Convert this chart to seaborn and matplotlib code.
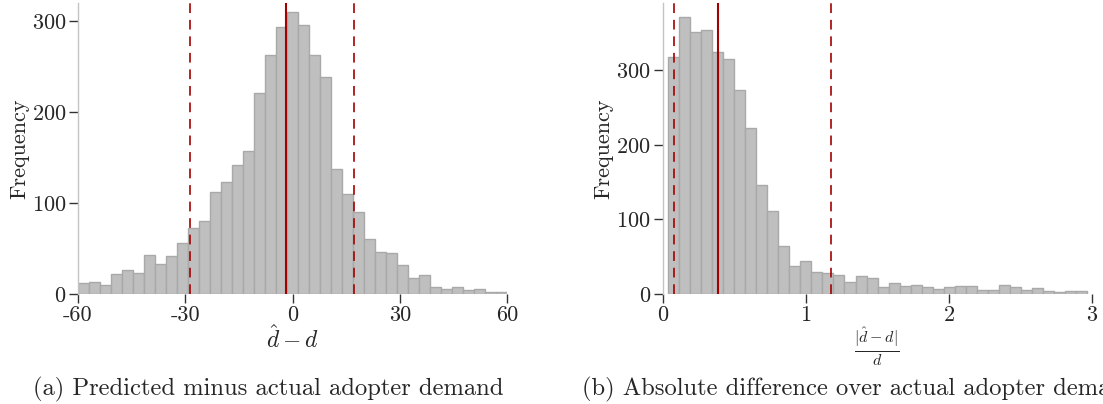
import numpy as np
import pandas as pd
import seaborn as sns
import matplotlib.pyplot as plt

# bin counts
diff_counts = [12, 13, 10, 22, 26, 23, 43, 33, 42, 56, 73, 80, 112, 123, 142, 157,
               221, 263, 294, 310, 296, 263, 239, 138, 110, 90, 61, 46, 45, 32, 18,
               21, 8, 6, 8, 4, 6, 2, 2]
diff_range = (-60, 60)
diff_lines = [-28.8, -1.9, 17.1]   # lower, median, upper

rel_counts = [318, 372, 351, 354, 325, 315, 274, 223, 146, 111, 64, 38, 44, 29, 28,
              25, 16, 24, 22, 9, 15, 11, 12.5, 10, 7, 10, 11, 11, 6, 5, 12.5, 9, 6,
              8.5, 4.5, 3, 4.5, 4.5]
rel_range = (0.037, 2.968)
rel_lines = [0.081, 0.389, 1.18]

diff_ticks = [-60, -30, 0, 30, 60]
diff_ticklabels = ['-60', '-30', '0', '30', '60']
rel_ticks = [0, 1, 2, 3]
freq_ticks_a = [0, 100, 200, 300]
freq_ticks_b = [0, 100, 200, 300]

sns.set_style('ticks')
plt.rcParams['font.family'] = ['cmr10', 'DejaVu Serif']
plt.rcParams['mathtext.fontset'] = 'cm'
plt.rcParams['axes.unicode_minus'] = False
plt.rcParams['axes.formatter.use_mathtext'] = True

bar_col = '#bfbfbf'
edge_col = '#a9a9a9'
red = '#a30000'


def hist_panel(ax, counts, rng, lines):
    edges = np.linspace(rng[0], rng[1], len(counts) + 1)
    df = pd.DataFrame({'val': (edges[:-1] + edges[1:]) / 2, 'n': counts})
    # bins as a plain list (array trips seaborn's "auto" check with weights)
    sns.histplot(data=df, x='val', weights='n', bins=edges.tolist(), ax=ax,
                 color=bar_col, edgecolor=edge_col, linewidth=1.0, alpha=1)
    ax.axvline(lines[0], color=red, ls=(0, (5, 3.5)), lw=1.4, alpha=0.85)
    ax.axvline(lines[1], color=red, ls='-', lw=1.5)
    ax.axvline(lines[2], color=red, ls=(0, (5, 3.5)), lw=1.4, alpha=0.85)
    for s in ['top', 'right', 'bottom']:
        ax.spines[s].set_visible(False)
    ax.spines['left'].set_color('#c4c4c4')
    ax.spines['left'].set_linewidth(1.0)
    ax.tick_params(axis='both', direction='out', length=6.5, width=1,
                   color='#333333', labelsize=16, pad=2)
    ax.set_ylabel('Frequency', fontsize=16, labelpad=2)


fig = plt.figure(figsize=(11.03, 4.04), dpi=100)
ax1 = fig.add_axes([0.0707, 0.2723, 0.389, 0.72])
ax2 = fig.add_axes([0.6008, 0.2723, 0.389, 0.72])

hist_panel(ax1, diff_counts, diff_range, diff_lines)
ax1.set_xlim(-60, 60)
ax1.set_ylim(0, 320)
ax1.set_xticks(diff_ticks)
ax1.set_xticklabels(diff_ticklabels)
ax1.set_yticks(freq_ticks_a)
ax1.set_xlabel(r'$\hat{d} - d$', fontsize=17, labelpad=0)

hist_panel(ax2, rel_counts, rel_range, rel_lines)
ax2.set_xlim(0, 3)
ax2.set_ylim(0, 390)
ax2.set_xticks(rel_ticks)
ax2.set_yticks(freq_ticks_b)
ax2.set_xlabel(r'$\frac{|\hat{d}-d|}{d}$', fontsize=16.5, labelpad=0)

fig.text(0.030, 0.022, '(a) Predicted minus actual adopter demand', fontsize=17.7,
         ha='left', va='baseline')
fig.text(0.528, 0.022, '(b) Absolute difference over actual adopter demand',
         fontsize=17.7, ha='left', va='baseline')

fig.savefig('out.png', dpi=100)
